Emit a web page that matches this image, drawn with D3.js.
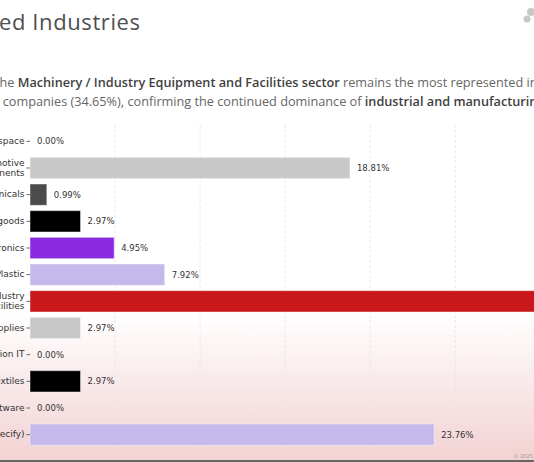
<!DOCTYPE html>
<html>
<head>
<meta charset="utf-8">
<script src="https://cdn.jsdelivr.net/npm/d3@7"></script>
<style>
  html, body { margin: 0; padding: 0; background: #fff; overflow: hidden; }
  svg { display: block; }
</style>
</head>
<body>
<div id="chart"></div>
<script>
// data
const categories = [
  'Aerospace',
  'Automotive\nComponents',
  'Chemicals',
  'Consumer goods',
  'Electronics',
  'Rubber / Plastic',
  'Machinery / Industry\nEquipment and Facilities',
  'Medical supplies',
  'Information IT',
  'Textiles',
  'Software',
  'Other (please specify)'
]
const shares = [0.00, 18.81, 0.99, 2.97, 4.95, 7.92, 34.65, 2.97, 0.00, 2.97, 0.00, 23.76]
const barColors = ['#c8c8c8', '#c8c8c8', '#4b4b4b', '#000000', '#8a2be2', '#c4b9ea',
  '#c8181b', '#c8c8c8', '#c8c8c8', '#000000', '#c8c8c8', '#c4b9ea']
const gridTicks = [5, 10, 15, 20, 25, 30, 35]

const width = 534, height = 462

const svg = d3.select('#chart').append('svg')
  .attr('width', width).attr('height', height)

// background: white, fading to pink below the red bar
const defs = svg.append('defs')
const grad = defs.append('linearGradient')
  .attr('id', 'bg').attr('x1', 0).attr('y1', 0).attr('x2', 0).attr('y2', 1)
grad.append('stop').attr('offset', '0%').attr('stop-color', '#ffffff')
grad.append('stop').attr('offset', '100%').attr('stop-color', '#f3d2d3')

svg.append('rect').attr('width', width).attr('height', height).attr('fill', '#fff')
svg.append('rect')
  .attr('x', 0).attr('y', 312).attr('width', width).attr('height', 148)
  .attr('fill', 'url(#bg)')
svg.append('rect')
  .attr('x', 0).attr('y', 460).attr('width', width).attr('height', 2)
  .attr('fill', '#666')

// text that is cut at the left edge like the reference:
// the hidden prefix is measured and pushed off the page
function cutText(g, x, y, prefix, parts, style) {
  const probe = g.append('text').attr('x', 0).attr('y', -100)
    .style('font-family', style.family).style('font-size', style.size + 'px')
    .style('letter-spacing', style.spacing || '0px')
    .attr('xml:space', 'preserve')
  probe.append('tspan').attr('font-weight', style.weight).text(prefix)
  const shift = probe.node().getComputedTextLength()
  probe.remove()

  const t = g.append('text')
    .attr('x', x - shift).attr('y', y)
    .attr('xml:space', 'preserve')
    .style('font-family', style.family).style('font-size', style.size + 'px')
    .style('letter-spacing', style.spacing || '0px')
  t.append('tspan').attr('font-weight', style.weight)
    .attr('fill', style.color).text(prefix)
  parts.forEach(p => {
    t.append('tspan')
      .attr('font-weight', p.bold ? 600 : style.weight)
      .attr('fill', p.bold ? '#3f3f3f' : style.color)
      .text(p.text)
  })
}

const head = svg.append('g')
cutText(head, -1, 30, 'Represent', [{ text: 'ed Industries' }],
  { family: 'Open Sans', size: 22, weight: 400, color: '#4f4f4f', spacing: '0.6px' })

cutText(head, -0.5, 87, 'In 2025, t', [
  { text: 'he ' },
  { text: 'Machinery / Industry Equipment and Facilities sector', bold: true },
  { text: ' remains the most represented industry, with 35' }
], { family: 'Open Sans', size: 12.7, weight: 400, color: '#666' })

cutText(head, -0.5, 106, 'with 35', [
  { text: ' companies (34.65%), confirming the continued dominance of ' },
  { text: 'industrial and manufacturing', bold: true },
  { text: ' sectors.' }
], { family: 'Open Sans', size: 12.7, weight: 400, color: '#666' })

// small grey logo mark, top right
const logo = svg.append('g').attr('fill', '#c8c8c8')
logo.append('circle').attr('cx', 531).attr('cy', 12).attr('r', 4)
logo.append('circle').attr('cx', 527).attr('cy', 19).attr('r', 3.5)

// scales
const scaleX = d3.scaleLinear().domain([0, 36]).range([30, 30 + 36 * 17.01])
const scaleY = d3.scaleBand().domain(d3.range(categories.length))
  .range([128, 448]).paddingInner(0.2).paddingOuter(0.1)

// dashed vertical grid
svg.append('g').selectAll('line')
  .data(gridTicks)
  .enter()
  .append('line')
  .attr('x1', d => scaleX(d)).attr('x2', d => scaleX(d))
  .attr('y1', 125).attr('y2', 452)
  .attr('stroke', '#e6e6e6')
  .attr('stroke-width', 0.8)
  .attr('stroke-dasharray', '3,2')

// bars
svg.append('g').selectAll('rect')
  .data(shares)
  .enter()
  .append('rect')
  .attr('x', scaleX(0))
  .attr('y', (d, i) => scaleY(i))
  .attr('width', d => scaleX(d) - scaleX(0))
  .attr('height', scaleY.bandwidth())
  .attr('fill', (d, i) => barColors[i])
  .attr('stroke', d => d > 0 ? 'rgba(255,255,255,0.45)' : 'none')
  .attr('stroke-width', 1)

// value labels
svg.append('g').selectAll('text')
  .data(shares)
  .enter()
  .append('text')
  .attr('x', d => scaleX(d) + 7)
  .attr('y', (d, i) => scaleY(i) + scaleY.bandwidth() / 2)
  .attr('dy', '0.35em')
  .style('font-family', 'DejaVu Sans')
  .style('font-size', '8.5px')
  .attr('fill', '#333')
  .text(d => d.toFixed(2) + '%')

// y axis with category names
const yAxis = d3.axisLeft(scaleY).tickSize(3.5).tickPadding(2).tickFormat(() => '')
const yg = svg.append('g')
  .attr('transform', `translate(${scaleX(0)},0)`)
  .call(yAxis)
yg.select('.domain').remove()
yg.selectAll('.tick line').attr('stroke', '#444').attr('stroke-width', 0.8)
yg.selectAll('.tick text').remove()
yg.selectAll('.tick').each(function (d) {
  const lines = categories[d].split('\n')
  const t = d3.select(this).append('text')
    .attr('x', -5.5)
    .attr('text-anchor', 'end')
    .style('font-family', 'DejaVu Sans')
    .style('font-size', '9px')
    .attr('fill', '#333')
  lines.forEach((l, k) => {
    t.append('tspan')
      .attr('x', -5.5)
      .attr('y', (k - (lines.length - 1) / 2) * 10 - 0.5)
      .attr('dy', '0.35em')
      .text(l)
  })
})

svg.append('text')
  .attr('x', 533).attr('y', 458)
  .attr('text-anchor', 'end')
  .style('font-family', 'DejaVu Sans')
  .style('font-size', '5px')
  .attr('fill', '#999')
  .text('© 2025')
</script>
</body>
</html>
